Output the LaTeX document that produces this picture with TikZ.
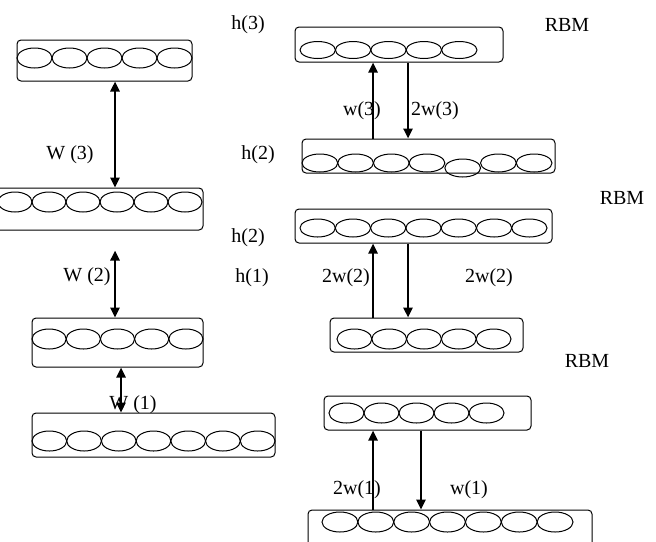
\documentclass[tikz,border=0pt]{standalone}
\usepackage{fontspec}
\setmainfont{Liberation Serif}
\usetikzlibrary{arrows.meta,shapes.geometric}
\tikzset{
  layer/.style={draw, rounded corners=2pt, inner sep=0pt, line width=0.5pt},
  unit/.style={ellipse, draw, inner sep=0pt, line width=0.5pt},
  lbl/.style={font=\fontsize{10}{12}\selectfont, inner sep=0pt},
  wt/.style={line width=1.2pt},
  >={Triangle[length=5pt,width=4.5pt]}
}

\begin{document}
\begin{tikzpicture}[x=0.5pt, y=-0.5pt]
  \useasboundingbox (0,0) rectangle (656,541);
  \clip (0,0) rectangle (656,541);
  % layers, left stack
  \node[layer, minimum width=87.5pt, minimum height=20.5pt] (L4) at (104.5,60.5) {};
  \node[layer, minimum width=109pt, minimum height=21pt] (L3) at (94,209) {};
  \node[layer, minimum width=85.5pt, minimum height=24.5pt] (L2) at (117.5,342.5) {};
  \node[layer, minimum width=121.5pt, minimum height=22pt] (L1) at (153.5,435) {};
  % layers, right stack
  \node[layer, minimum width=104pt, minimum height=17.5pt] (R6) at (399,44.5) {};
  \node[layer, minimum width=126.5pt, minimum height=17pt] (R5) at (428.5,156) {};
  \node[layer, minimum width=128.5pt, minimum height=17pt] (R4) at (423.5,226) {};
  \node[layer, minimum width=96.5pt, minimum height=17pt] (R3) at (426.5,335) {};
  \node[layer, minimum width=103.5pt, minimum height=17pt] (R2) at (427.5,413) {};
  \node[layer, minimum width=142pt, minimum height=25pt] (R1) at (450,535) {};
  % units
  \foreach \nm/\n/\xa/\xb/\yc/\uh in {L4/5/17/192/58/20, L3/6/-2/202/202/20,
      L2/5/32/203/339/20, L1/7/32/275/441/20, R6/5/300/477/50/17,
      R4/7/300/547/228/18, R3/5/337/511/339/20, R2/5/329/504/413/20,
      R1/7/322/573/522/20}{
    \pgfmathsetmacro\uw{(\xb-\xa)/\n}
    \foreach \i in {1,...,\n}
      \node[unit, minimum width=\uw*0.5pt, minimum height=\uh*0.5pt]
        (\nm-\i) at ({\xa+(\i-0.5)*\uw},\yc) {};
  }
  \foreach \i/\dy in {1/0,2/0,3/0,4/0,5/5,6/0,7/0}
    \node[unit, minimum width=17.86pt, minimum height=9pt]
      (R5-\i) at ({302+(\i-0.5)*35.71},{163+\dy}) {};
  % weights, left
  \draw[wt, <->] (115,0 |- L4.south) -- (115,0 |- L3.north);
  \draw[wt, <->, shorten >=10pt] (115,0 |- L2.north) -- (115,0 |- L3.south);
  \draw[wt, <->] (121,0 |- L2.south) -- (121,0 |- L1.north);
  % weights, right
  \draw[wt, ->] (373,0 |- R5.north) -- (373,0 |- R6.south);
  \draw[wt, ->] (408,0 |- R6.south) -- (408,0 |- R5.north);
  \draw[wt, ->] (373,0 |- R3.north) -- (373,0 |- R4.south);
  \draw[wt, ->] (408,0 |- R4.south) -- (408,0 |- R3.north);
  \draw[wt, ->] (373,0 |- R1.north) -- (373,0 |- R2.south);
  \draw[wt, ->] (421,0 |- R2.south) -- (421,0 |- R1.north);
  % labels
  \node[lbl] (lW3) at (70,155) {W (3)};
  \node[lbl] (lW2) at (87,277) {W (2)};
  \node[lbl] (lW1) at (133,405) {W (1)};
  \node[lbl] (lh3) at (248,25) {h(3)};
  \node[lbl] (lh2a) at (258,155) {h(2)};
  \node[lbl] (lh2b) at (248,238) {h(2)};
  \node[lbl] (lh1) at (252,278) {h(1)};
  \node[lbl] (rbm3) at (567,25) {RBM};
  \node[lbl] (rbm2) at (622,198) {RBM};
  \node[lbl] (rbm1) at (587,361) {RBM};
  \node[lbl] (lw3) at (362,111) {w(3)};
  \node[lbl] (l2w3) at (435,111) {2w(3)};
  \node[lbl] (l2w2a) at (346,278) {2w(2)};
  \node[lbl] (l2w2b) at (489,278) {2w(2)};
  \node[lbl] (l2w1) at (357,490) {2w(1)};
  \node[lbl] (lw1) at (469,490) {w(1)};
\end{tikzpicture}
\end{document}
